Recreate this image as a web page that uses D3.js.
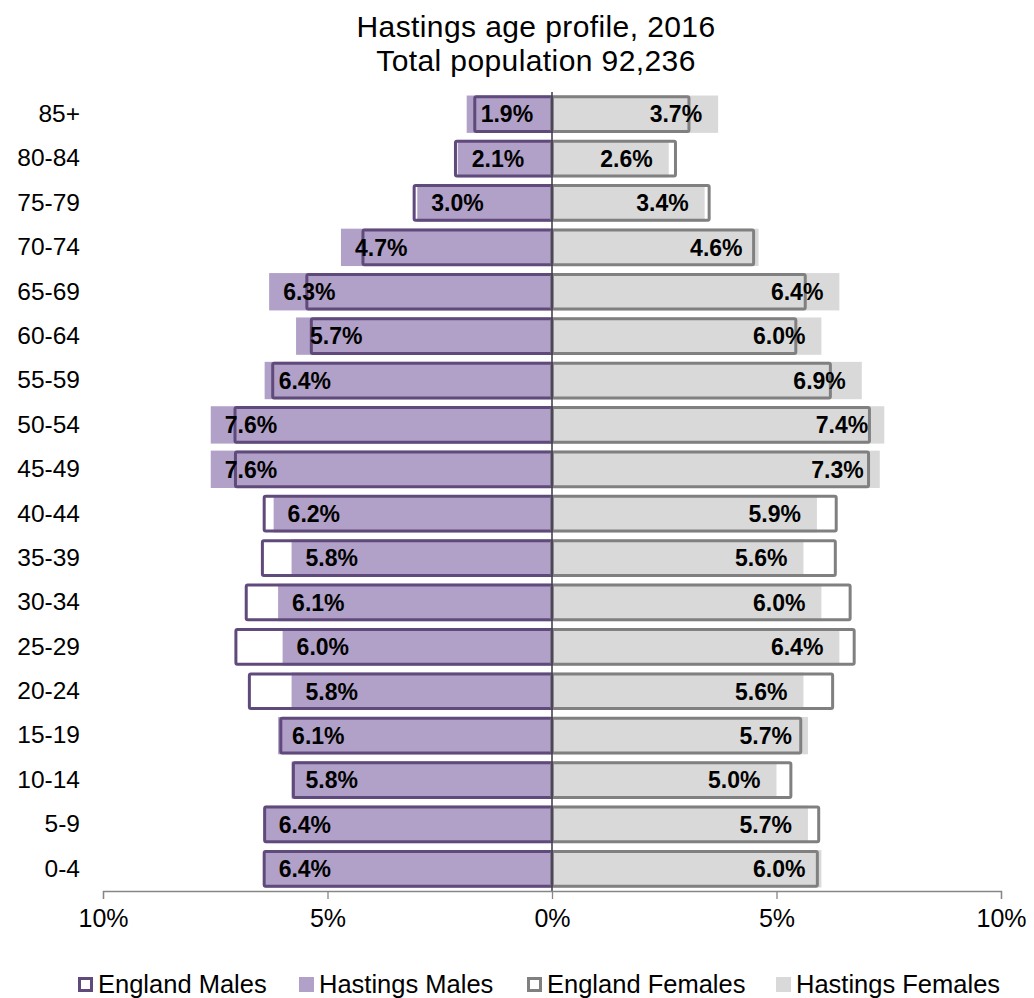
<!DOCTYPE html>
<html>
<head>
<meta charset="utf-8">
<script src="https://cdn.jsdelivr.net/npm/d3@7"></script>
<style>
  html, body { margin: 0; padding: 0; background: #ffffff; }
  svg { display: block; font-family: "Liberation Sans", Arial, sans-serif; }
</style>
</head>
<body>
<svg id="chart" width="1034" height="998"></svg>
<script>
// ---- data ----
const ageGroups = ["85+", "80-84", "75-79", "70-74", "65-69", "60-64", "55-59", "50-54", "45-49",
                   "40-44", "35-39", "30-34", "25-29", "20-24", "15-19", "10-14", "5-9", "0-4"];
const hastingsMales   = [1.9, 2.1, 3.0, 4.7, 6.3, 5.7, 6.4, 7.6, 7.6, 6.2, 5.8, 6.1, 6.0, 5.8, 6.1, 5.8, 6.4, 6.4];
const hastingsFemales = [3.7, 2.6, 3.4, 4.6, 6.4, 6.0, 6.9, 7.4, 7.3, 5.9, 5.6, 6.0, 6.4, 5.6, 5.7, 5.0, 5.7, 6.0];
const englandMales    = [1.72, 2.15, 3.07, 4.21, 5.46, 5.36, 6.22, 7.06, 7.05, 6.41, 6.45, 6.81, 7.04, 6.74, 6.04, 5.76, 6.40, 6.41];
const englandFemales  = [3.05, 2.75, 3.50, 4.49, 5.64, 5.43, 6.20, 7.07, 7.05, 6.33, 6.31, 6.64, 6.73, 6.25, 5.54, 5.32, 5.94, 5.91];
const xTicks = [-10, -5, 0, 5, 10];
const titleLines = ["Hastings age profile, 2016", "Total population 92,236"];
const legendLabels = ["England Males", "Hastings Males", "England Females", "Hastings Females"];

// ---- styles ----
const C = {
  hmFill: "#b1a0c7", emStroke: "#604a7b",
  hfFill: "#d9d9d9", efStroke: "#808080",
  axis: "#868686", zero: "#3a3446", text: "#000000"
};

const svg = d3.select("#chart");

const x = d3.scaleLinear().domain([-10, 10]).range([103, 1001]);
const y = d3.scaleBand().domain(ageGroups).range([92, 891]).paddingInner(0.15).paddingOuter(0.075);
const bw = y.bandwidth();
const fillH = bw * 0.99;
const outH = bw * 0.92;

// title
svg.append("g").selectAll("text").data(titleLines).join("text")
  .attr("x", 536).attr("y", (d, i) => 37 + i * 34)
  .attr("text-anchor", "middle")
  .style("font-size", "30px").style("letter-spacing", "0.4px").attr("fill", C.text)
  .text(d => d);

const rows = ageGroups.map((g, i) => ({
  g, hm: hastingsMales[i], hf: hastingsFemales[i], em: englandMales[i], ef: englandFemales[i]
}));

// Hastings fills
svg.append("g").selectAll("rect").data(rows).join("rect")
  .attr("x", d => x(-d.hm)).attr("width", d => x(0) - x(-d.hm))
  .attr("y", d => y(d.g) + (bw - fillH) / 2).attr("height", fillH)
  .attr("fill", C.hmFill);
svg.append("g").selectAll("rect").data(rows).join("rect")
  .attr("x", x(0)).attr("width", d => x(d.hf) - x(0))
  .attr("y", d => y(d.g) + (bw - fillH) / 2).attr("height", fillH)
  .attr("fill", C.hfFill);

// England outlines
svg.append("g").selectAll("rect").data(rows).join("rect")
  .attr("x", d => x(-d.em)).attr("width", d => x(0) - x(-d.em))
  .attr("y", d => y(d.g) + (bw - outH) / 2).attr("height", outH)
  .attr("fill", "none").attr("stroke", C.emStroke).attr("stroke-width", 3)
  .attr("rx", 1.5);
svg.append("g").selectAll("rect").data(rows).join("rect")
  .attr("x", x(0)).attr("width", d => x(d.ef) - x(0))
  .attr("y", d => y(d.g) + (bw - outH) / 2).attr("height", outH)
  .attr("fill", "none").attr("stroke", C.efStroke).attr("stroke-width", 3)
  .attr("rx", 1.5);

// zero line
svg.append("line")
  .attr("x1", x(0)).attr("x2", x(0)).attr("y1", 92).attr("y2", 891)
  .attr("stroke", C.zero).attr("stroke-width", 1.5);

// x axis
const xAxis = d3.axisBottom(x).tickValues(xTicks).tickSize(8).tickPadding(10)
  .tickFormat(d => Math.abs(d) + "%");
const gx = svg.append("g").attr("transform", "translate(0,891)").call(xAxis);
gx.select(".domain").attr("stroke", C.axis).attr("stroke-width", 1.3);
gx.selectAll(".tick line").attr("stroke", C.axis).attr("stroke-width", 1.3);
gx.selectAll(".tick text").attr("fill", C.text)
  .style("font-size", "25px").style("font-family", "'Liberation Sans', Arial, sans-serif");

// y labels
const yAxis = d3.axisLeft(y).tickSize(0).tickPadding(0);
const gy = svg.append("g").attr("transform", "translate(80,0)").call(yAxis);
gy.select(".domain").remove();
gy.selectAll(".tick text").attr("fill", C.text)
  .style("font-size", "24.5px").style("font-family", "'Liberation Sans', Arial, sans-serif");

// value labels
svg.append("g").selectAll("text").data(rows).join("text")
  .attr("x", d => x(-d.hm) + 14).attr("y", d => y(d.g) + bw / 2)
  .attr("dy", "0.36em").attr("text-anchor", "start")
  .style("font-size", "23px").style("font-weight", "bold").attr("fill", C.text)
  .text(d => d.hm.toFixed(1) + "%");
svg.append("g").selectAll("text").data(rows).join("text")
  .attr("x", d => x(d.hf) - 16).attr("y", d => y(d.g) + bw / 2)
  .attr("dy", "0.36em").attr("text-anchor", "end")
  .style("font-size", "23px").style("font-weight", "bold").attr("fill", C.text)
  .text(d => d.hf.toFixed(1) + "%");

// legend
const legendX = [78, 299, 527, 776];
const legendStyle = [
  { fill: "#ffffff", stroke: C.emStroke },
  { fill: C.hmFill, stroke: "none" },
  { fill: "#ffffff", stroke: C.efStroke },
  { fill: C.hfFill, stroke: "none" }
];
const lg = svg.append("g").selectAll("g").data(legendLabels).join("g")
  .attr("transform", (d, i) => `translate(${legendX[i]},977)`);
lg.append("rect")
  .attr("x", (d, i) => legendStyle[i].stroke === "none" ? 0 : 1.5)
  .attr("y", (d, i) => legendStyle[i].stroke === "none" ? 0 : 1.5)
  .attr("width", (d, i) => legendStyle[i].stroke === "none" ? 15 : 12)
  .attr("height", (d, i) => legendStyle[i].stroke === "none" ? 15 : 12)
  .attr("fill", (d, i) => legendStyle[i].fill)
  .attr("stroke", (d, i) => legendStyle[i].stroke)
  .attr("stroke-width", 3);
lg.append("text")
  .attr("x", 20).attr("y", 16)
  .style("font-size", "25.5px").attr("fill", C.text)
  .text(d => d);
</script>
</body>
</html>
